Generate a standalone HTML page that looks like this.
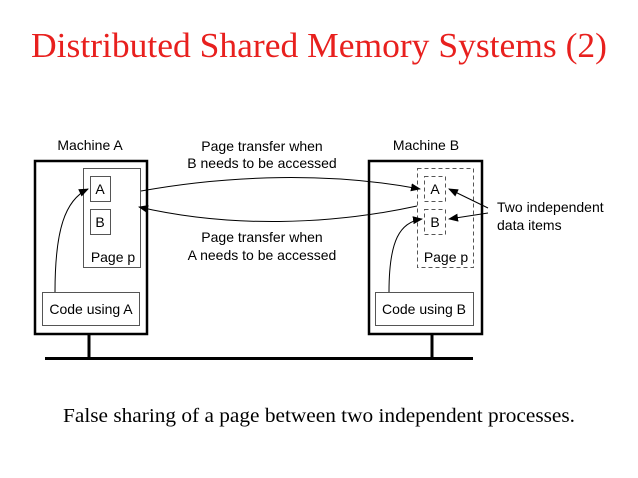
<!DOCTYPE html>
<html><head><style>
body{margin:0;background:#fff;width:638px;height:478px;overflow:hidden}
svg{display:block}
</style></head><body>
<svg width="638" height="478" viewBox="0 0 638 478" xmlns="http://www.w3.org/2000/svg">
<defs><marker id="ah" markerWidth="10" markerHeight="8" refX="9" refY="4" orient="auto" markerUnits="userSpaceOnUse"><path d="M0,0 L10,4 L0,8 z" fill="#000"/></marker></defs>
<text x="319" y="57" text-anchor="middle" font-family="Liberation Serif,serif" font-size="35" textLength="576" lengthAdjust="spacingAndGlyphs" fill="#e8201e">Distributed Shared Memory Systems (2)</text>
<g font-family="Liberation Sans,sans-serif" font-size="14" fill="#000">
<text x="90" y="150" text-anchor="middle">Machine A</text>
<text x="426" y="150" text-anchor="middle">Machine B</text>
<text x="262" y="151" text-anchor="middle">Page transfer when</text>
<text x="262" y="168" text-anchor="middle">B needs to be accessed</text>
<text x="262" y="242" text-anchor="middle">Page transfer when</text>
<text x="262" y="260" text-anchor="middle">A needs to be accessed</text>
<text x="497" y="212">Two independent</text>
<text x="497" y="230">data items</text>
<text x="100" y="194" text-anchor="middle">A</text>
<text x="100" y="227" text-anchor="middle">B</text>
<text x="113" y="262" text-anchor="middle">Page p</text>
<text x="91" y="314" text-anchor="middle">Code using A</text>
<text x="435" y="194" text-anchor="middle">A</text>
<text x="435" y="227" text-anchor="middle">B</text>
<text x="446" y="262" text-anchor="middle">Page p</text>
<text x="424" y="314" text-anchor="middle">Code using B</text>
</g>
<g fill="none" stroke="#000">
<rect x="35" y="161" width="112" height="173" stroke-width="2.5"/>
<rect x="369" y="161" width="113" height="173" stroke-width="2.5"/>
<rect x="83.5" y="168.5" width="57" height="99" stroke="#555"/>
<rect x="90.5" y="176.5" width="20" height="25" stroke="#555"/>
<rect x="90.5" y="209.5" width="20" height="25" stroke="#555"/>
<rect x="42.5" y="292.5" width="97" height="33" stroke="#555"/>
<rect x="417.5" y="168.5" width="56" height="99" stroke="#555" stroke-dasharray="4,3"/>
<rect x="424.5" y="176.5" width="21" height="25" stroke="#555" stroke-dasharray="4,3"/>
<rect x="424.5" y="209.5" width="21" height="25" stroke="#555" stroke-dasharray="4,3"/>
<rect x="375.5" y="292.5" width="98" height="33" stroke="#555"/>
<line x1="89" y1="334" x2="89" y2="358" stroke-width="3"/>
<line x1="432" y1="334" x2="432" y2="358" stroke-width="3"/>
<line x1="45" y1="358.5" x2="473" y2="358.5" stroke-width="3"/>
<path d="M55,292 C55,230 65,200 88,189" stroke-width="1" marker-end="url(#ah)"/>
<path d="M389,292 C389,240 400,222 422,219" stroke-width="1" marker-end="url(#ah)"/>
<path d="M141,191 C230,175 330,172 420,189" stroke-width="1" marker-end="url(#ah)"/>
<path d="M417,206 C330,225 230,228 139,207" stroke-width="1" marker-end="url(#ah)"/>
<path d="M488,208 L449,189" stroke-width="1" marker-end="url(#ah)"/>
<path d="M488,213 L449,219" stroke-width="1" marker-end="url(#ah)"/>
</g>
<text x="319" y="422" text-anchor="middle" font-family="Liberation Serif,serif" font-size="20" textLength="512" lengthAdjust="spacingAndGlyphs" fill="#000">False sharing of a page between two independent processes.</text>
</svg>
</body></html>
